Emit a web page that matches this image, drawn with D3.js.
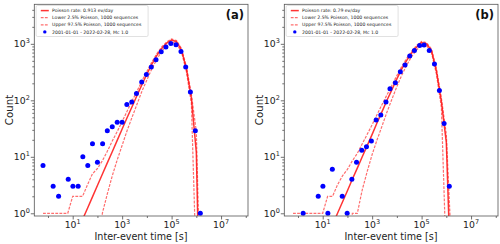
<!DOCTYPE html>
<html><head><meta charset="utf-8">
<script src="https://cdn.jsdelivr.net/npm/d3@7"></script>
<style>body{margin:0;background:#fff} svg{display:block} text{font-family:"DejaVu Sans",sans-serif}</style>
</head><body><svg id="c" width="500" height="244"></svg>
<script>
// ---- shared line grid (inter-event time, s) ----
const lineTime = [0.631, 1, 1.58, 2.51, 3.98, 6.31, 10, 15.8, 25.1, 39.8, 63.1, 100, 158, 251, 398, 631,
  1000, 1580, 2510, 3980, 6310, 10000, 15800, 25100, 39800, 63100, 100000, 158000, 251000, 398000,
  631000, 1000000, 1580000, 2510000];

// ---- panel (a) ----
const aTime = [0.63, 1.62, 2.69, 6.6, 10.2, 16.6, 25.7, 40.7, 63.1, 100, 162, 251, 398, 631, 1000, 1550,
  2450, 3800, 6170, 9550, 15100, 23400, 38000, 58900, 93300, 151000, 240000, 372000, 575000, 912000, 1450000];
const aCount = [7, 3, 2, 4, 3, 3, 10, 7, 17, 8, 17, 29, 34, 41, 41, 84, 93, 132, 210, 287, 388, 523, 724, 877,
  1016, 964, 733, 388, 140, 29, 1];
const aPoisson = [null, null, null, null, null, null, 0.31, 0.49, 0.78, 1.23, 1.95, 3.1, 4.9, 7.8, 12.3, 19.5,
  31, 49, 77, 122, 190, 290, 435, 620, 830, 1030, 1170, 1090, 780, 360, 110, 12, 0.001, null];
const aUpper = [1, 1, 1, 1, 1, 1, 2, 2, 2, 3.2, 5, 6.2, 8.5, 12.5, 19, 28, 42, 64, 97, 145, 220, 325, 475,
  665, 880, 1080, 1220, 1140, 830, 395, 128, 28, 0.01, null];
const aLower = [null, null, null, null, null, null, null, null, null, null, null, 0.001, 1, 2.2, 4.6, 8.8, 16,
  29, 50, 85, 145, 230, 360, 530, 740, 930, 1070, 1010, 720, 320, 88, 0.1, 0.001, null];

// ---- panel (b) ----
const bTime = [1.62, 6.6, 10.2, 16.2, 24.5, 61.7, 97.7, 151, 234, 380, 589, 933, 1450, 2240, 3630, 5250,
  8710, 13800, 21400, 33100, 51300, 83200, 126000, 204000, 331000, 525000, 813000, 1320000];
const bCount = [1, 2, 3, 1, 6, 2, 1, 4, 8, 13, 15, 19, 45, 55, 93, 160, 204, 320, 421, 608, 764, 937, 950,
  764, 438, 150, 39, 3];
const bPoisson = [null, null, null, null, null, null, 0.25, 0.4, 0.63, 1.0, 1.58, 2.5, 4.0, 6.3, 10, 15.8,
  25, 40, 63, 100, 155, 240, 360, 510, 690, 880, 1050, 1000, 760, 330, 95, 18, 0.04, null];
const bUpper = [1, 1, 1, 1, 1, 1, 1, 2, 2, 3.2, 4.6, 6, 8.5, 11.5, 17, 25, 37, 56, 84, 125, 185, 275, 400,
  555, 740, 940, 1100, 1050, 810, 365, 110, 25, 0.3, null];
const bLower = [null, null, null, null, null, null, null, null, null, null, null, 0.001, 1, 1, 2.6, 5.5, 11,
  20, 35, 62, 105, 175, 280, 420, 600, 780, 950, 930, 700, 290, 75, 0.13, 0.001, null];

// ---- labels / ticks ----
const xMajor = [1e1, 1e3, 1e5, 1e7];
const xMinor = [1e0, 1e2, 1e4, 1e6, 1e8];
const yMajor = [1, 10, 100, 1000];
const legendTexts = {
  a: ["Poisson rate: 0.913 ev/day", "Lower 2.5% Poisson, 1000 sequences", "Upper 97.5% Poisson, 1000 sequences", "2001-01-01 - 2022-02-28, Mc 1.0"],
  b: ["Poisson rate: 0.79 ev/day", "Lower 2.5% Poisson, 1000 sequences", "Upper 97.5% Poisson, 1000 sequences", "2001-01-01 - 2022-02-28, Mc 1.0"]
};
const xLabel = "Inter-event time [s]";
const yLabel = "Count";

const svg = d3.select("#c");

function yMinorVals() {
  const v = [];
  for (let d = 1; d <= 1000; d *= 10) for (let m = 2; m <= 9; m++) { const t = d * m; if (t < 5000) v.push(t); }
  return v;
}

function panel(ox, id, tag, time, count, pois, upper, lower, legend) {
  const L = ox + 34.3, R = ox + 248, T = 4.3, B = 216;
  const x = d3.scaleLog().domain([Math.pow(10, -0.553), Math.pow(10, 8.09)]).range([L, R]);
  const y = d3.scaleLog().domain([Math.pow(10, -0.048), Math.pow(10, 3.70)]).range([B, T]);
  const g = svg.append("g");

  svg.append("clipPath").attr("id", "clip" + id).append("rect")
    .attr("x", L).attr("y", T).attr("width", R - L).attr("height", B - T);

  // axes ticks
  const axC = "#333";
  const gx = g.append("g").attr("transform", `translate(0,${B})`);
  gx.call(d3.axisBottom(x).tickValues(xMajor).tickSize(3.5).tickFormat(""));
  const gxm = g.append("g").attr("transform", `translate(0,${B})`);
  gxm.call(d3.axisBottom(x).tickValues(xMinor.filter(v => x(v) > L && x(v) < R)).tickSize(2).tickFormat(""));
  const gy = g.append("g").attr("transform", `translate(${L},0)`);
  gy.call(d3.axisLeft(y).tickValues(yMajor).tickSize(3.5).tickFormat(""));
  const gym = g.append("g").attr("transform", `translate(${L},0)`);
  gym.call(d3.axisLeft(y).tickValues(yMinorVals()).tickSize(2).tickFormat(""));
  [gx, gxm, gy, gym].forEach(a => { a.select(".domain").remove(); a.selectAll("line").attr("stroke", axC).attr("stroke-width", 0.7); });

  // tick labels
  xMajor.forEach(v => {
    const t = g.append("text").attr("x", x(v)).attr("y", 228.3).attr("text-anchor", "middle")
      .attr("font-size", 9.3).attr("fill", "#222");
    t.append("tspan").text("10");
    t.append("tspan").attr("dy", -4).attr("font-size", 6.5).text(Math.round(Math.log10(v)));
  });
  yMajor.forEach(v => {
    const t = g.append("text").attr("x", L - 4.5).attr("y", y(v) + 3.5).attr("text-anchor", "end")
      .attr("font-size", 9.3).attr("fill", "#222");
    t.append("tspan").text("10");
    t.append("tspan").attr("dy", -4).attr("font-size", 6.5).text(Math.round(Math.log10(v)));
  });

  // axis labels
  g.append("text").attr("x", ox + 141).attr("y", 240.3).attr("text-anchor", "middle")
    .attr("font-size", 9.6).attr("fill", "#222").text(xLabel);
  g.append("text").attr("transform", `translate(${ox + 12.5},110) rotate(-90)`).attr("text-anchor", "middle")
    .attr("font-size", 10.2).attr("fill", "#222").text(yLabel);

  // lines
  const pc = g.append("g").attr("clip-path", `url(#clip${id})`);
  const line = d3.line().defined(d => d[1] != null).x(d => x(d[0])).y(d => y(d[1]));
  const mk = arr => lineTime.map((t, i) => [t, arr[i]]);
  const dashStyle = p => p.attr("fill", "none").attr("stroke", "#ff3030").attr("stroke-opacity", 0.7)
    .attr("stroke-width", 1.2).attr("stroke-dasharray", "2.8,1.3");
  pc.append("path").datum(mk(upper)).attr("d", line).call(dashStyle);
  pc.append("path").datum(mk(lower)).attr("d", line).call(dashStyle);
  pc.append("path").datum(mk(pois)).attr("d", line).attr("fill", "none")
    .attr("stroke", "#ff1010").attr("stroke-opacity", 0.85).attr("stroke-width", 1.5);

  // points
  pc.selectAll("circle.pt").data(time.map((t, i) => [t, count[i]])).enter().append("circle")
    .attr("cx", d => x(d[0])).attr("cy", d => y(d[1])).attr("r", 2.5).attr("fill", "#0000ff");

  // frame
  g.append("rect").attr("x", L).attr("y", T).attr("width", R - L).attr("height", B - T)
    .attr("fill", "none").attr("stroke", "#555").attr("stroke-width", 0.8);

  // legend
  const lg = g.append("g");
  lg.append("rect").attr("x", L + 1.8).attr("y", T + 1.2).attr("width", 112).attr("height", 31)
    .attr("rx", 1.5).attr("fill", "#fff").attr("fill-opacity", 0.85).attr("stroke", "#ccc").attr("stroke-width", 0.6);
  legend.forEach((txt, i) => {
    const yy = 10.6 + i * 7.1;
    const hx0 = L + 6.5, hx1 = L + 14.5;
    if (i === 0) lg.append("line").attr("x1", hx0).attr("x2", hx1).attr("y1", yy).attr("y2", yy)
      .attr("stroke", "#ff1010").attr("stroke-opacity", 0.85).attr("stroke-width", 1.5);
    else if (i < 3) lg.append("line").attr("x1", hx0).attr("x2", hx1).attr("y1", yy).attr("y2", yy)
      .call(dashStyle);
    else lg.append("circle").attr("cx", (hx0 + hx1) / 2).attr("cy", yy).attr("r", 1.7).attr("fill", "#0000ff");
    lg.append("text").attr("x", L + 17.8).attr("y", yy + 1.6).attr("font-size", 4.6).attr("fill", "#222").text(txt);
  });

  // panel tag
  g.append("text").attr("x", R - 4).attr("y", 18.5).attr("text-anchor", "end").attr("font-size", 11.5)
    .attr("font-weight", "bold").attr("fill", "#111").text(tag);
}

panel(0, "a", "(a)", aTime, aCount, aPoisson, aUpper, aLower, legendTexts.a);
panel(250, "b", "(b)", bTime, bCount, bPoisson, bUpper, bLower, legendTexts.b);
</script></body></html>
